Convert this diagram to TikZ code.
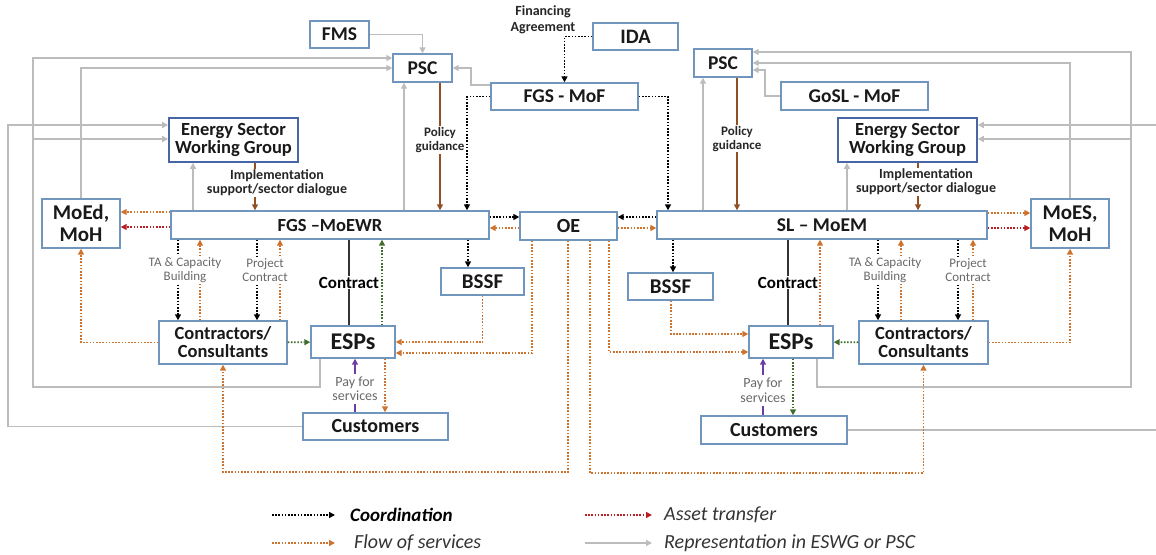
\documentclass[tikz,border=0pt]{standalone}
\usepackage{fontspec}
\setmainfont{Carlito}
\usetikzlibrary{arrows.meta}
\definecolor{boxblue}{RGB}{112,150,190}
\definecolor{eswgblue}{RGB}{72,102,165}
\definecolor{reprgrey}{RGB}{188,188,188}
\definecolor{servorange}{RGB}{205,115,45}
\definecolor{assetred}{RGB}{185,30,35}
\definecolor{policybrown}{RGB}{145,80,35}
\definecolor{espgreen}{RGB}{65,110,45}
\definecolor{paypurple}{RGB}{110,60,165}
\definecolor{labelgrey}{RGB}{105,105,105}

\begin{document}
\begin{tikzpicture}[x=1pt,y=-1pt,>={Triangle[length=6pt,width=6pt]},
    box/.style={draw=boxblue,line width=1.4pt,fill=white,inner sep=0pt,align=center,text=black!90,font=\fontsize{18.5}{18}\selectfont\bfseries},
    eswg/.style={box,draw=eswgblue,line width=1.6pt},
    dotline/.style={line width=1.8pt,dash pattern=on 1.6pt off 1.6pt},
    repr/.style={draw=reprgrey,line width=1.7pt,->},
    coord/.style={dotline,draw=black,->},
    serv/.style={dotline,draw=servorange,->},
    asset/.style={dotline,draw=assetred,->},
    espline/.style={dotline,draw=espgreen,->},
    policy/.style={draw=policybrown,line width=2pt,->},
    impl/.style={draw=policybrown,line width=1.4pt,->},
    pay/.style={draw=paypurple,line width=1.6pt,<-},
    contract/.style={draw=black!80,line width=1.8pt},
    lbl/.style={fill=white,inner sep=1pt,align=center},
    smalllbl/.style={lbl,text=labelgrey,font=\fontsize{13}{14}\selectfont},
    boldlbl/.style={lbl,text=black!85,font=\fontsize{14}{14.5}\selectfont\bfseries},
    legend/.style={anchor=west,inner sep=0pt,text=black!80,font=\fontsize{20}{20}\selectfont\itshape}]
\useasboundingbox (0,0) rectangle (1156,554);

\node[box,minimum width=59pt,minimum height=27pt,font=\fontsize{19.5}{18}\selectfont\bfseries] (fms) at (339.5,34.5) {FMS};
\node[box,minimum width=59pt,minimum height=28pt,font=\fontsize{19.5}{18}\selectfont\bfseries] (psc1) at (422.5,68) {PSC};
\node[box,minimum width=147pt,minimum height=27pt,font=\fontsize{19.5}{18}\selectfont\bfseries] (mof1) at (564.5,96.5) {FGS - MoF};
\node[box,minimum width=85pt,minimum height=27pt,font=\fontsize{20.5}{18}\selectfont\bfseries] (ida) at (635.5,36.5) {IDA};
\node[box,minimum width=58pt,minimum height=28pt,font=\fontsize{19.5}{18}\selectfont\bfseries] (psc2) at (723,63) {PSC};
\node[box,minimum width=147pt,minimum height=28pt,font=\fontsize{19.5}{18}\selectfont\bfseries] (mof2) at (854.5,96) {GoSL - MoF};
\node[eswg,minimum width=129pt,minimum height=44pt] (eswg1) at (233.5,140) {Energy Sector\\Working Group};
\node[eswg,minimum width=139pt,minimum height=44pt] (eswg2) at (907.5,140) {Energy Sector\\Working Group};
\node[box,minimum width=78pt,minimum height=49pt,font=\fontsize{21}{22}\selectfont\bfseries] (moed) at (81,223.5) {MoEd,\\MoH};
\node[box,minimum width=318pt,minimum height=28pt] (moewr) at (330,225) {FGS –MoEWR};
\node[box,minimum width=97pt,minimum height=28pt,font=\fontsize{20}{18}\selectfont\bfseries] (oe) at (568.5,226) {OE};
\node[box,minimum width=330pt,minimum height=28pt,font=\fontsize{19.5}{18}\selectfont\bfseries] (moem) at (822,225) {SL – MoEM};
\node[box,minimum width=78pt,minimum height=49pt,font=\fontsize{21}{22}\selectfont\bfseries] (moes) at (1070,223.5) {MoES,\\MoH};
\node[box,minimum width=83pt,minimum height=27pt,font=\fontsize{21}{18}\selectfont\bfseries] (bssf1) at (482.5,281.5) {BSSF};
\node[box,minimum width=85pt,minimum height=27pt,font=\fontsize{21}{18}\selectfont\bfseries] (bssf2) at (670.5,286.5) {BSSF};
\node[box,minimum width=128pt,minimum height=43pt] (cons1) at (223,342.5) {Contractors/\\Consultants};
\node[box,minimum width=84pt,minimum height=32pt,font=\fontsize{24}{22}\selectfont\bfseries] (esp1) at (353,342) {ESPs};
\node[box,minimum width=129pt,minimum height=43pt] (cons2) at (923.5,342.5) {Contractors/\\Consultants};
\node[box,minimum width=84pt,minimum height=32pt,font=\fontsize{24}{22}\selectfont\bfseries] (esp2) at (791,342) {ESPs};
\node[box,minimum width=145pt,minimum height=27pt,font=\fontsize{20}{18}\selectfont\bfseries] (cust1) at (375.5,426.5) {Customers};
\node[box,minimum width=146pt,minimum height=28pt,font=\fontsize{20}{18}\selectfont\bfseries] (cust2) at (774,430) {Customers};

\draw[repr] (fms) -| (psc1);
\draw[repr] ([yshift=-3pt]mof1.north west) -- ++(-19,0) |- (psc1);
\draw[repr] (moed) |- (psc1);
\draw[repr] (esp1.south -| 320,0) |- (33,387) |- ([yshift=10pt]psc1.west);
\coordinate (jl) at (33,139);
\draw[repr] (jl) -- (eswg1.west |- jl);
\draw[repr] (cust1) -| (8,125) -- ([yshift=15pt]eswg1.west);
\draw[repr] (moewr.north -| 193,0) -- (eswg1.south -| 193,0);
\draw[repr] (moewr.north -| 404,0) -- (psc1.south -| 404,0);
\draw[repr] (mof2) -- (765,96) |- ([yshift=-7pt]psc2.east);
\draw[repr] (moes) |- (psc2);
\draw[repr] (esp2.south -| 817,0) |- (1131,387) |- ([yshift=11pt]psc2.east);
\coordinate (jr) at (1131,139);
\draw[repr] (jr) -- (eswg2.east |- jr);
\draw[repr] (cust2) -| (1170,125) -- ([yshift=15pt]eswg2.east);
\draw[repr] (moem.north -| 703,0) -- (psc2.south -| 703,0);
\draw[repr] (moem.north -| 847,0) -- (eswg2.south -| 847,0);

\draw[policy] (psc1.south -| 440,0) -- node[lbl,pos=0.45,font=\fontsize{13}{14}\selectfont\bfseries,text=black!85] {Policy\\guidance} (moewr.north -| 440,0);
\draw[policy] (psc2.south -| 737,0) -- node[lbl,pos=0.46,font=\fontsize{13}{14}\selectfont\bfseries,text=black!85] {Policy\\guidance} (moem.north -| 737,0);
\draw[impl] (eswg1.south -| 255,0) -- (moewr.north -| 255,0);
\draw[impl] (eswg2.south -| 918,0) -- (moem.north -| 918,0);

\draw[coord] (ida) -| (mof1);
\draw[coord] (mof1) -| (moewr.north -| 467,0);
\draw[coord] (mof1) -| (moem.north -| 668,0);
\draw[coord] (moewr.east |- 0,217) -- (oe.west |- 0,217);
\draw[coord] (moem.west |- 0,217) -- (oe.east |- 0,217);
\draw[coord] (moewr.south -| 468,0) -- (bssf1.north -| 468,0);
\draw[coord] (moem.south -| 673,0) -- (bssf2.north -| 673,0);
\draw[coord] (moewr.south -| 178,0) -- (cons1.north -| 178,0);
\draw[coord] (moewr.south -| 257,0) -- (cons1.north -| 257,0);
\draw[coord] (moem.south -| 878,0) -- (cons2.north -| 878,0);
\draw[coord] (moem.south -| 958,0) -- (cons2.north -| 958,0);

\draw[serv] (oe.west |- 0,228) -- (moewr.east |- 0,228);
\draw[serv] (oe.east |- 0,228) -- (moem.west |- 0,228);
\draw[serv] (moewr.west |- 0,212) -- (moed.east |- 0,212);
\draw[serv] (moem.east |- 0,213) -- (moes.west |- 0,213);
\draw[serv] (cons1.north -| 200,0) -- (moewr.south -| 200,0);
\draw[serv] (cons1.north -| 280,0) -- (moewr.south -| 280,0);
\draw[serv] (cons2.north -| 901,0) -- (moem.south -| 901,0);
\draw[serv] (cons2.north -| 973,0) -- (moem.south -| 973,0);
\draw[serv] (cons1) -| (moed);
\draw[serv] (cons2) -| (moes);
\draw[serv] (oe.south -| 568,0) -- (568,472) -| (cons1);
\draw[serv] (oe.south -| 590,0) -- (590,473) -| (cons2);
\draw[serv] (oe.south -| 532,0) |- (esp1.east |- 0,353);
\draw[serv] (bssf1) |- (esp1);
\draw[serv] (oe.south -| 609,0) |- (esp2.west |- 0,352);
\draw[serv] (bssf2.south -| 671,0) |- (esp2.west |- 0,334);
\draw[serv] (esp1.south -| 385,0) -- (cust1.north -| 385,0);
\draw[serv] (esp2.north -| 820,0) -- (moem.south -| 820,0);

\draw[asset] (moewr.west |- 0,227) -- (moed.east |- 0,227);
\draw[asset] (moem.east |- 0,228) -- (moes.west |- 0,228);

\draw[espline] (esp1.north -| 382,0) -- (moewr.south -| 382,0);
\draw[espline] (cons1) -- (esp1);
\draw[espline] (cons2) -- (esp2);
\draw[espline] (esp2.south -| 793,0) -- (cust2.north -| 793,0);

\draw[contract] (moewr.south -| 349,0) -- node[lbl,font=\fontsize{17}{18}\selectfont\bfseries] {Contract} (esp1.north -| 349,0);
\draw[contract] (moem.south -| 788,0) -- node[lbl,font=\fontsize{17}{18}\selectfont\bfseries] {Contract} (esp2.north -| 788,0);
\draw[pay] (esp1.south -| 355,0) -- node[smalllbl,pos=0.56,inner ysep=3pt,font=\fontsize{14}{14.5}\selectfont] {Pay for\\services} (cust1.north -| 355,0);
\draw[pay] (esp2.south -| 763,0) -- node[smalllbl,pos=0.56,inner ysep=3pt,font=\fontsize{14}{14.5}\selectfont] {Pay for\\services} (cust2.north -| 763,0);

\node[boldlbl,font=\fontsize{14}{16}\selectfont\bfseries] (fin) at (543,20) {Financing\\Agreement};
\node[boldlbl] (impl1) at (277,183) {Implementation\\support/sector dialogue};
\node[boldlbl] (impl2) at (926,182) {Implementation\\support/sector dialogue};
\node[smalllbl] (ta1) at (185,270) {TA \& Capacity\\Building};
\node[smalllbl] (pc1) at (265,270) {Project\\Contract};
\node[smalllbl] (ta2) at (885,270) {TA \& Capacity\\Building};
\node[smalllbl] (pc2) at (968,270) {Project\\Contract};

\node[legend,text=black,font=\fontsize{19}{20}\selectfont\bfseries\itshape] (lcoord) at (350,515) {Coordination};
\node[legend] (lserv) at (354,543) {Flow of services};
\node[legend] (lasset) at (664,515) {Asset transfer};
\node[legend] (lrepr) at (664,543) {Representation in ESWG or PSC};
\coordinate (l1) at (272,515);
\coordinate (l2) at (272,543);
\coordinate (l3) at (585,515);
\coordinate (l4) at (585,543);
\draw[coord] (l1) -- ([xshift=-15pt]lcoord.west);
\draw[serv] (l2) -- ([xshift=-19pt]lserv.west);
\draw[asset] (l3) -- ([xshift=-12pt]lasset.west);
\draw[repr] (l4) -- ([xshift=-12pt]lrepr.west);
\end{tikzpicture}
\end{document}
